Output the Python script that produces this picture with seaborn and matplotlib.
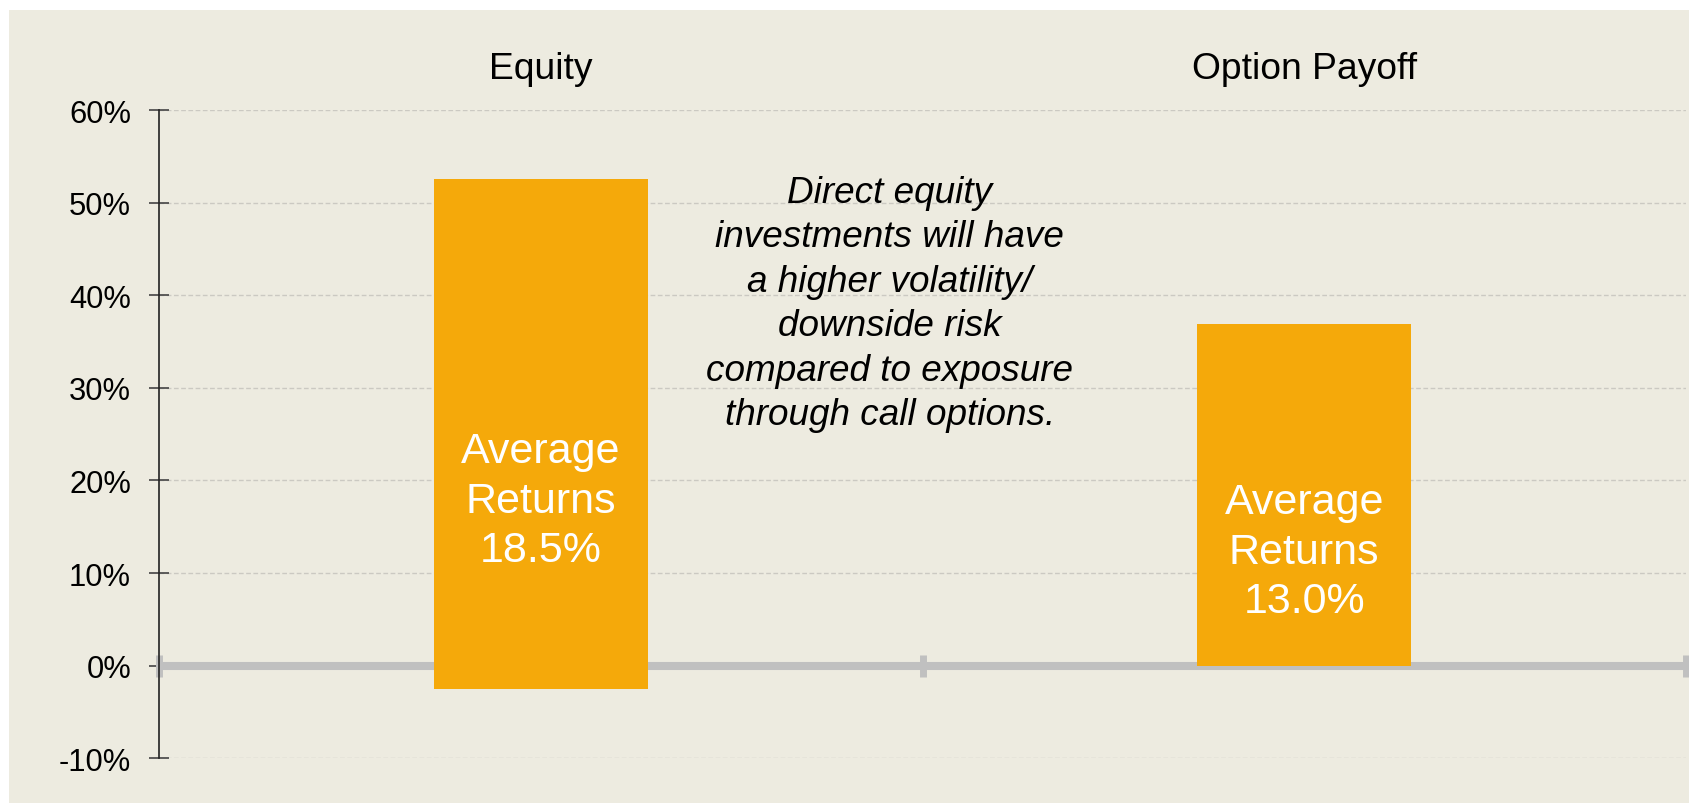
import matplotlib
matplotlib.use("Agg")
import matplotlib.pyplot as plt
import seaborn as sns
import pandas as pd
from matplotlib.patches import Rectangle

# Datos: rango de retornos por instrumento
categorias = ["Equity", "Option Payoff"]
maximos = [52.6, 36.9]
minimos = [-2.5, 0.0]
promedios = [18.5, 13.0]
yticks = [-10, 0, 10, 20, 30, 40, 50, 60]
ytick_labels = ["-10%", "0%", "10%", "20%", "30%", "40%", "50%", "60%"]
nota = ("Direct equity\ninvestments will have\na higher volatility/\n"
        "downside risk\ncompared to exposure\nthrough call options.")

BEIGE = "#EDEBE0"
NARANJA = "#F5A90A"
GRIS = "#C0C0C0"

sns.set_theme(style="white")
plt.rcParams["font.family"] = ["Liberation Sans", "DejaVu Sans"]

df = pd.DataFrame({"cat": categorias, "alto": maximos, "bajo": minimos})

fig = plt.figure(figsize=(16.89, 8.04), dpi=100, facecolor="white")
fondo = Rectangle((9 / 1689, 0), 1, 1 - 11 / 804, transform=fig.transFigure,
                  facecolor=BEIGE, edgecolor="none", zorder=-5)
fig.patches.append(fondo)
ax = fig.add_axes([159 / 1689, 1 - 759.3 / 804, (1686 - 159) / 1689, (759.3 - 111) / 804])
ax.set_zorder(1)
ax.set_facecolor("none")

# barras flotantes: parte positiva y parte negativa
for col in ["alto", "bajo"]:
    sns.barplot(data=df, x="cat", y=col, color=NARANJA, saturation=1, width=0.28,
                linewidth=0, edgecolor=NARANJA, ax=ax, zorder=3)

ax.set_xlim(-0.5, len(categorias) - 0.5)
ax.set_ylim(-10, 60)
ax.set_yticks(yticks)
ax.set_yticklabels(ytick_labels, fontsize=22.2, color="black")
ax.set_xlabel("")
ax.set_ylabel("")

# etiquetas de categoría arriba
ax.xaxis.set_ticks_position("top")
ax.set_xticks(range(len(categorias)))
ax.set_xticklabels(categorias, fontsize=26.8, color="black")
ax.tick_params(axis="x", length=0, pad=17)
ax.tick_params(axis="y", left=True, direction="inout", length=13.7, width=1.2,
               color="#444444", pad=13.3)

for s in ["top", "right", "bottom"]:
    ax.spines[s].set_visible(False)
ax.spines["left"].set_color("#222222")
ax.spines["left"].set_linewidth(1.2)

ax.yaxis.grid(True, linestyle=(0, (3.4, 1.8)), linewidth=1.0, color="#CBC9C2", zorder=0)
ax.set_axisbelow(True)

# línea de cero con marcas entre categorías
ax.axhline(0, color=GRIS, linewidth=5.8, zorder=2)
limites = [i - 0.5 for i in range(len(categorias) + 1)]
ax.plot(limites, [0] * len(limites), linestyle="none", marker="|", markersize=16.5,
        markeredgewidth=5, color=GRIS, zorder=2, clip_on=False)

# etiqueta del retorno promedio, centrada en su valor
for i, v in enumerate(promedios):
    ax.annotate(f"Average\nReturns\n{v:.1f}%", xy=(i, v), xytext=(0, -4.5),
                textcoords="offset points", ha="center", va="center",
                color="white", fontsize=31, linespacing=1.31, zorder=4)

ax.text(0.457, 39.1, nota, ha="center", va="center", multialignment="center",
        fontsize=26.6, style="italic", linespacing=1.35, color="black", zorder=4)

fig.savefig("out.png", dpi=100, facecolor="white")
